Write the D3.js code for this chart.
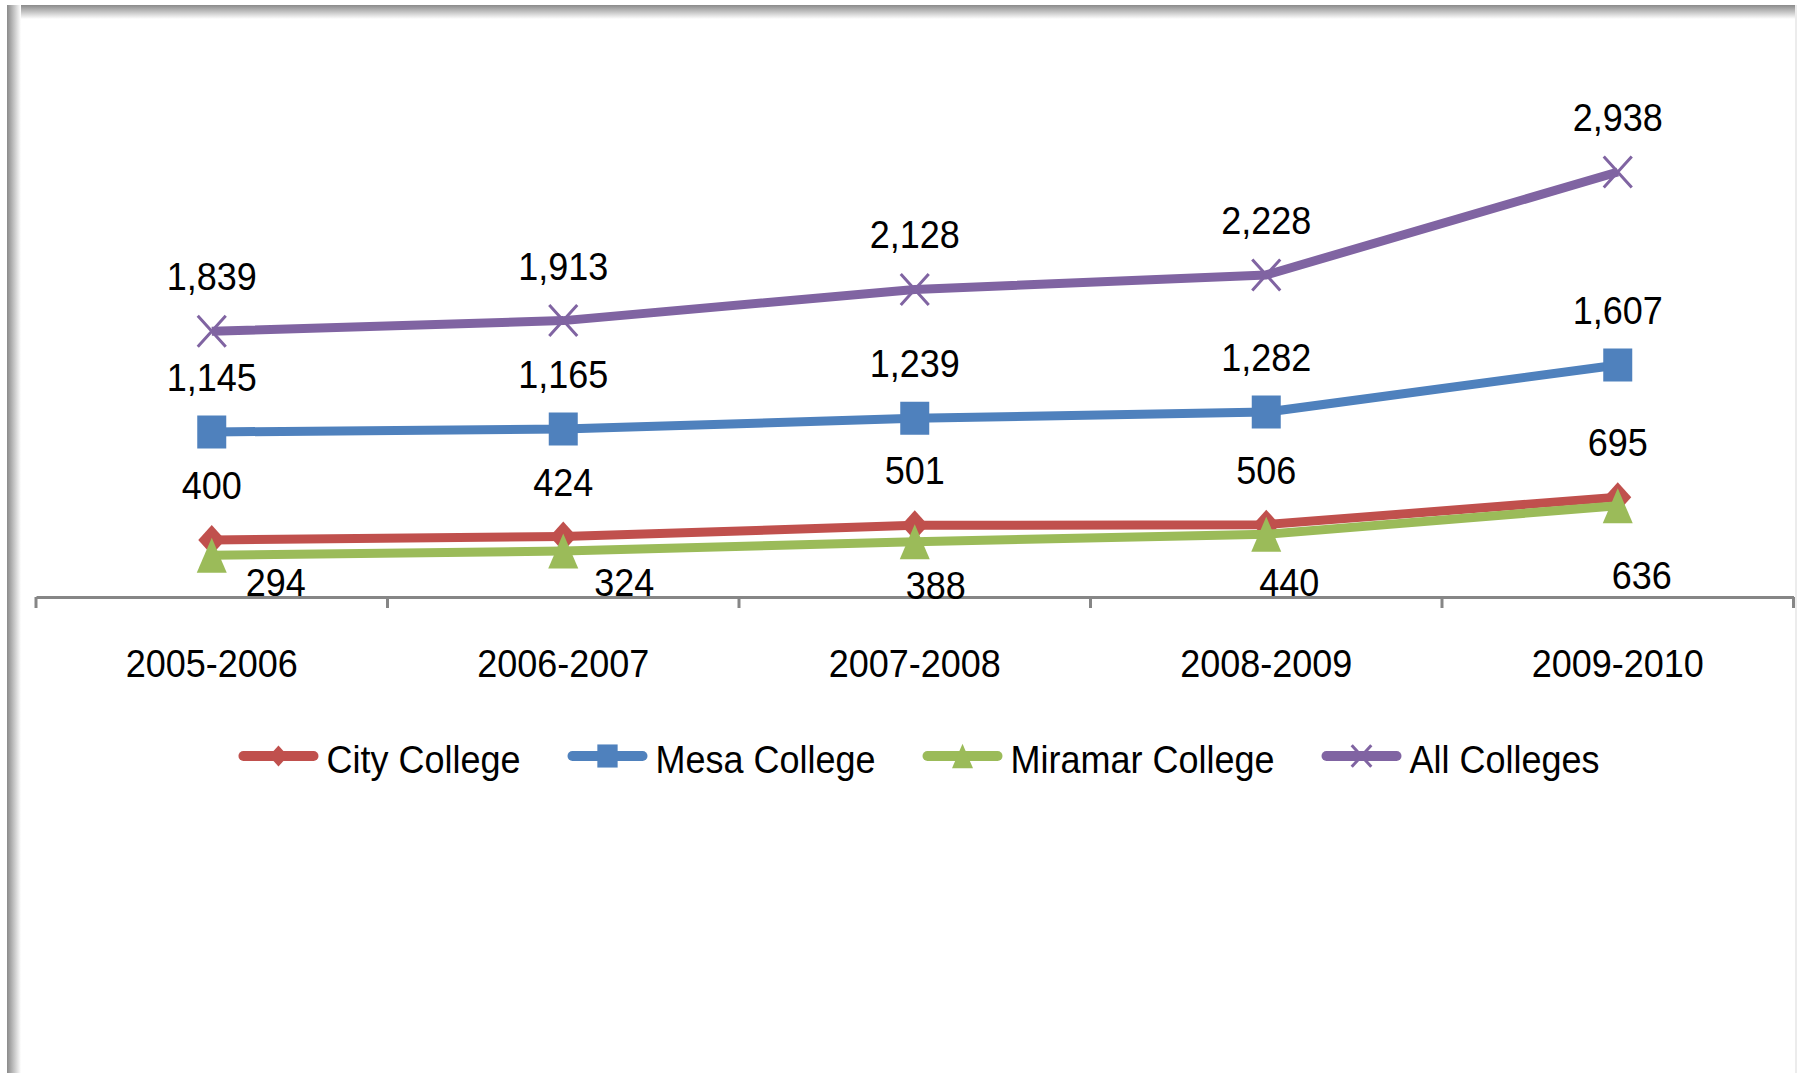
<!DOCTYPE html>
<html>
<head>
<meta charset="utf-8">
<script src="https://cdn.jsdelivr.net/npm/d3@7"></script>
<style>
  html, body { margin: 0; padding: 0; background: #fff; }
  svg { display: block; font-family: "Liberation Sans", Arial, sans-serif; }
</style>
</head>
<body>
<svg id="chart" width="1803" height="1073"></svg>
<script>
// Categories and series values
const years = ['2005-2006', '2006-2007', '2007-2008', '2008-2009', '2009-2010'];
const cityCollege = [400, 424, 501, 506, 695];
const mesaCollege = [1145, 1165, 1239, 1282, 1607];
const miramarCollege = [294, 324, 388, 440, 636];
const allColleges = [1839, 1913, 2128, 2228, 2938];
const seriesNames = ['City College', 'Mesa College', 'Miramar College', 'All Colleges'];

// Miramar labels were nudged by hand below the line in the original, [dx, dy]
const miramarLabelNudge = [[64, 41], [61, 45], [21, 57], [23, 62], [24, 83]];

const series = [
  { name: seriesNames[0], values: cityCollege, color: '#C0504D', marker: 'diamond' },
  { name: seriesNames[1], values: mesaCollege, color: '#4F81BD', marker: 'square' },
  { name: seriesNames[2], values: miramarCollege, color: '#9BBB59', marker: 'triangle' },
  { name: seriesNames[3], values: allColleges, color: '#8064A2', marker: 'x' },
];

const svg = d3.select('#chart');
const textStretch = 1.08;
const fmt = d3.format(',');

// Frame with the soft shadow on the top and left edges
const defs = svg.append('defs');
const gTop = defs.append('linearGradient').attr('id', 'shTop')
  .attr('x1', 0).attr('y1', 0).attr('x2', 0).attr('y2', 1);
gTop.append('stop').attr('offset', 0).attr('stop-color', '#8a8a8a');
gTop.append('stop').attr('offset', 1).attr('stop-color', '#ffffff');
const gLeft = defs.append('linearGradient').attr('id', 'shLeft')
  .attr('x1', 0).attr('y1', 0).attr('x2', 1).attr('y2', 0);
gLeft.append('stop').attr('offset', 0).attr('stop-color', '#8a8a8a');
gLeft.append('stop').attr('offset', 1).attr('stop-color', '#ffffff');

svg.append('rect').attr('x', 7).attr('y', 5).attr('width', 1788).attr('height', 14)
  .attr('fill', 'url(#shTop)');
svg.append('rect').attr('x', 7).attr('y', 5).attr('width', 14).attr('height', 1068)
  .attr('fill', 'url(#shLeft)');
svg.append('line').attr('x1', 1796).attr('x2', 1796).attr('y1', 5).attr('y2', 1073)
  .attr('stroke', '#ececec').attr('stroke-width', 2);

// Scales
const x = d3.scaleBand().domain(years).range([36, 1793.5]);
const y = d3.scaleLinear().domain([0, 3500]).range([598, 90.5]);
const cx = (d) => x(d) + x.bandwidth() / 2;

// Category axis with ticks between categories
const axisY = 597;
const xAxis = d3.axisBottom(x).tickSize(0).tickFormat((d) => d);
const axisG = svg.append('g').attr('transform', `translate(0,${axisY})`).call(xAxis);
axisG.select('.domain').attr('stroke', '#868686').attr('stroke-width', 3);
axisG.selectAll('.tick text').remove();
d3.range(years.length + 1).forEach((i) => {
  const tx = x.range()[0] + i * x.step();
  axisG.append('line')
    .attr('x1', tx).attr('x2', tx).attr('y1', 0).attr('y2', 11)
    .attr('stroke', '#868686').attr('stroke-width', 3);
});

function stretchedText(g, tx, ty, str, anchor) {
  return g.append('text')
    .attr('transform', `translate(${tx},${ty}) scale(1,${textStretch})`)
    .attr('text-anchor', anchor || 'middle')
    .attr('font-size', 36)
    .attr('fill', '#000')
    .text(str);
}

years.forEach((yr) => stretchedText(svg, cx(yr), 677, yr));

// Marker shapes
function markerPath(type, w, h) {
  const a = w / 2, b = h / 2;
  if (type === 'diamond') return `M0,${-b}L${a},0L0,${b}L${-a},0Z`;
  if (type === 'square') return `M${-a},${-b}H${a}V${b}H${-a}Z`;
  if (type === 'triangle') return `M0,${-b}L${a},${b}L${-a},${b}Z`;
  return `M${-a},${-b}L${a},${b}M${a},${-b}L${-a},${b}`;
}
const markerSize = {
  diamond: [27, 30], square: [29, 33], triangle: [30, 35], x: [28, 31],
};

function drawMarker(g, s, px, py, scale) {
  const [w, h] = markerSize[s.marker];
  const p = g.append('path')
    .attr('d', markerPath(s.marker, w * scale, h * scale))
    .attr('transform', `translate(${px},${py})`);
  if (s.marker === 'x') {
    p.attr('fill', 'none').attr('stroke', s.color).attr('stroke-width', 3);
  } else {
    p.attr('fill', s.color);
  }
}

// Lines and markers
const line = d3.line()
  .x((d, i) => cx(years[i]))
  .y((d) => y(d));

const plot = svg.append('g');
series.forEach((s) => {
  plot.append('path')
    .datum(s.values)
    .attr('d', line)
    .attr('fill', 'none')
    .attr('stroke', s.color)
    .attr('stroke-width', 9)
    .attr('stroke-linejoin', 'round');
  s.values.forEach((v, i) => drawMarker(plot, s, cx(years[i]), y(v), 1));
});

// Data labels
const labels = svg.append('g');
series.forEach((s) => {
  s.values.forEach((v, i) => {
    if (s.marker === 'triangle') {
      const [dx, dy] = miramarLabelNudge[i];
      stretchedText(labels, cx(years[i]) + dx, y(v) + dy, fmt(v));
    } else {
      stretchedText(labels, cx(years[i]), y(v) - 41, fmt(v));
    }
  });
});

// Legend
const legend = svg.append('g');
const legendY = 756;
const legendGap = 47;
let lx = 0;
const items = [];
series.forEach((s) => {
  const g = legend.append('g');
  g.append('line')
    .attr('x1', 5).attr('x2', 75).attr('y1', 0).attr('y2', 0)
    .attr('stroke', s.color).attr('stroke-width', 10).attr('stroke-linecap', 'round');
  drawMarker(g, s, 40, 0, 0.7);
  const t = stretchedText(g, 88, 17, s.name, 'start');
  const w = 88 + t.node().getComputedTextLength();
  items.push({ g, x: lx });
  lx += w + legendGap;
});
const total = lx - legendGap;
const start = 919 - total / 2;
items.forEach((it) => it.g.attr('transform', `translate(${start + it.x},${legendY})`));
</script>
</body>
</html>
